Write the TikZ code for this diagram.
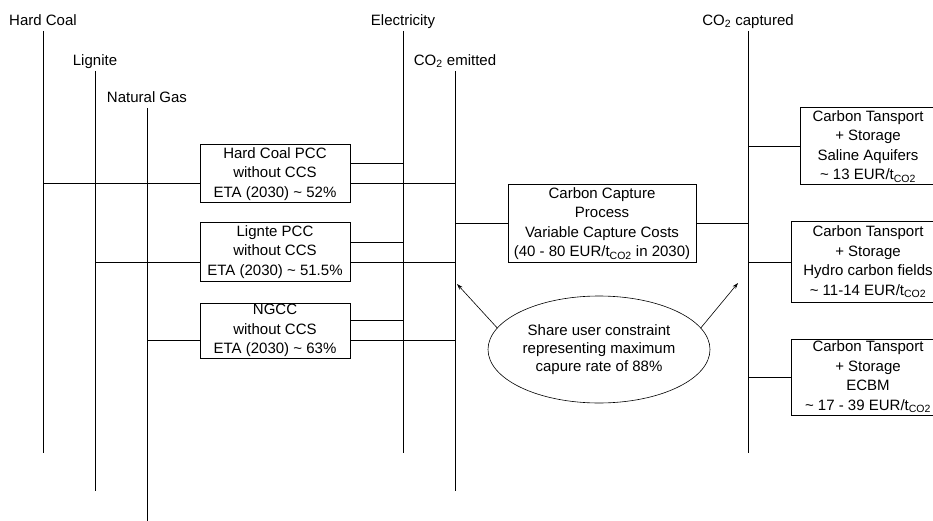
\documentclass[tikz,border=0pt]{standalone}
\usepackage{fontspec}
\setmainfont{Liberation Sans}
\usepackage{tikz}
\usetikzlibrary{shapes.geometric, arrows.meta, calc}
\definecolor{ink}{RGB}{0, 0, 0}
\tikzset{
    flow/.style={anchor=south, inner sep=2pt, text height=11pt, text depth=3pt},
    plant/.style={rectangle, draw=ink, fill=white, minimum width=150pt, minimum height=58pt, inner sep=0pt, align=center},
    capture/.style={rectangle, draw=ink, fill=white, minimum width=188pt, minimum height=77pt, inner sep=0pt, align=center},
    storage/.style={rectangle, draw=ink, fill=white, minimum height=77pt, inner sep=0pt, align=center},
    constraint/.style={ellipse, draw=ink, line width=0.6pt, minimum width=222pt, minimum height=107pt, inner sep=0pt, align=center},
    link/.style={line width=1pt, ink},
    pointer/.style={line width=0.6pt, ink, -{Stealth[length=6pt, width=4pt]}}
}

\begin{document}
\begin{tikzpicture}[x=1pt, y=-1pt, line width=1pt, font=\fontsize{15pt}{19.5pt}\selectfont]
        \useasboundingbox (0, 0) rectangle (933, 521);

        % Commodity flows
        \node[flow] (hc) at (43, 31) {Hard Coal};
        \node[flow] (lg) at (95, 71) {Lignite};
        \node[flow] (ng) at (147, 108) {Natural Gas};
        \node[flow] (el) at (403, 31) {Electricity};
        \node[flow] (em) at (455, 71) {CO\textsubscript{2} emitted};
        \node[flow] (cap) at (748, 31) {CO\textsubscript{2} captured};

        \coordinate (hcend) at (43, 453);
        \coordinate (lgend) at (95, 491);
        \coordinate (ngend) at (147, 521);
        \coordinate (elend) at (403, 453);
        \coordinate (emend) at (455, 491);
        \coordinate (capend) at (748, 453);

        \foreach \f in {hc, lg, ng, el, em, cap}
            \draw[link] (\f) -- (\f end);

        % Power plants
        \node[plant] (hcpcc) at (275, 174) {Hard Coal PCC\\without CCS\\ETA (2030) \textasciitilde{} 52\%};
        \node[plant] (lgpcc) at (275, 252) {Lignte PCC\\without CCS\\ETA (2030) \textasciitilde{} 51.5\%};
        \node[plant, minimum height=55pt] (ngcc) at (275, 330.5) {NGCC\\without CCS\\ETA (2030) \textasciitilde{} 63\%};

        \foreach \b/\f in {hcpcc/hc, lgpcc/lg, ngcc/ng} {
            \coordinate (in\b) at ($(\b.west)+(0, 10)$);
            \coordinate (el\b) at ($(\b.east)+(0, -10)$);
            \coordinate (em\b) at ($(\b.east)+(0, 10)$);
            \draw[link] (\f |- in\b) -- (in\b);
            \draw[link] (el\b) -- (el |- el\b);
            \draw[link] (em\b) -- (em |- em\b);
        }

        % Capture process
        \node[capture] (ccp) at (602, 223.5) {Carbon Capture\\Process\\Variable Capture Costs\\(40 - 80 EUR/t\textsubscript{CO2} in 2030)};
        \draw[link] (em |- ccp.west) -- (ccp.west);
        \draw[link] (ccp.east) -- (cap |- ccp.east);

        % Transport and storage
        \node[storage, minimum width=136pt] (ts1) at (868, 146.5) {Carbon Tansport\\+ Storage\\Saline Aquifers\\\textasciitilde{} 13 EUR/t\textsubscript{CO2}};
        \node[storage, minimum width=154pt, minimum height=80pt] (ts2) at (868, 262) {Carbon Tansport\\+ Storage\\Hydro carbon fields\\\textasciitilde{} 11-14 EUR/t\textsubscript{CO2}};
        \node[storage, minimum width=154pt, minimum height=76pt] (ts3) at (868, 377) {Carbon Tansport\\+ Storage\\ECBM\\\textasciitilde{} 17 - 39 EUR/t\textsubscript{CO2}};

        \foreach \t in {ts1, ts2, ts3}
            \draw[link] (cap |- \t.west) -- (\t.west);

        % Share constraint
        \node[constraint, font=\fontsize{15pt}{18pt}\selectfont] (share) at (599, 349.5) {Share user constraint\\representing maximum\\capure rate of 88\%};
        \coordinate (tipem) at (457, 284);
        \coordinate (tipcap) at (738, 283);
        \draw[pointer] (share.168) -- (tipem);
        \draw[pointer] (share.12) -- (tipcap);
    \end{tikzpicture}
\end{document}
